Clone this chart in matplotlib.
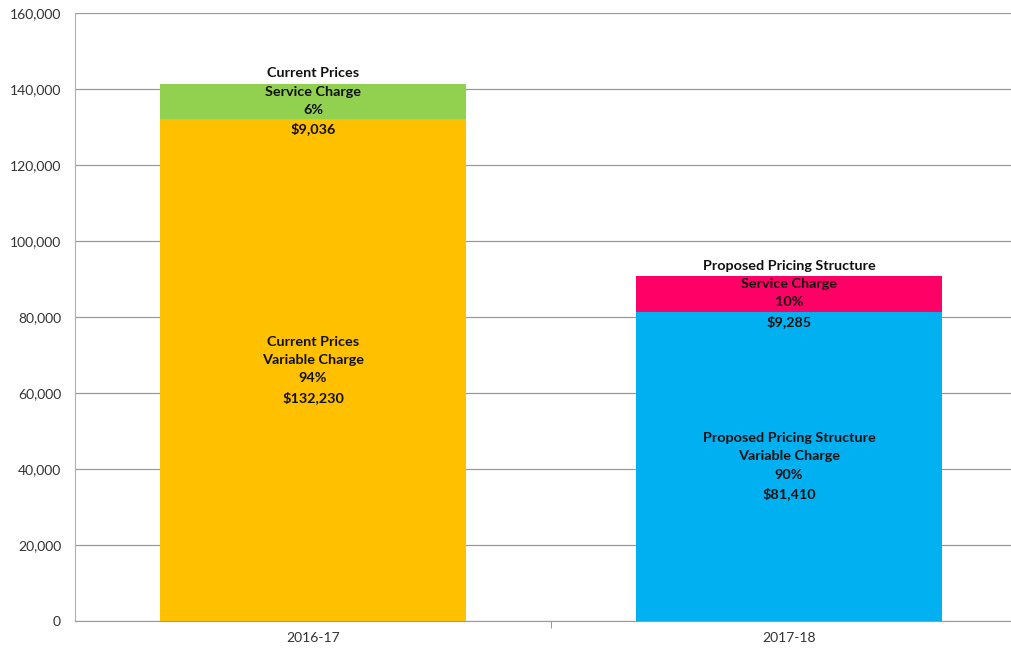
import numpy as np
import matplotlib.pyplot as plt

# data
years = ['2016-17', '2017-18']
variable = [132230, 81410]
service = [9036, 9285]
variable_pct = ['94%', '90%']
service_pct = ['6%', '10%']
structure = ['Current Prices', 'Proposed Pricing Structure']

variable_colors = ['#FFC000', '#00B0F0']
service_colors = ['#92D050', '#FF0066']

fig = plt.figure(figsize=(10.12, 6.53), dpi=100)
ax = fig.add_axes([75 / 1012, 32 / 653, 952 / 1012, 608 / 653])

x = np.arange(len(years))
width = 0.643
ax.bar(x, variable, width, color=variable_colors, zorder=2)
ax.bar(x, service, width, bottom=variable, color=service_colors, zorder=2)

lbl = dict(ha='center', va='center', fontsize=10.4, fontweight='bold',
           family='Lato', linespacing=1.62, color='#111111', zorder=3)
for i in range(len(years)):
    ax.text(x[i], variable[i] / 2,
            f'{structure[i]}\nVariable Charge\n{variable_pct[i]}\n${variable[i]:,}', **lbl)
    ax.text(x[i], variable[i] + service[i] / 2,
            f'{structure[i]}\nService Charge\n{service_pct[i]}\n${service[i]:,}', **lbl)

ax.set_ylim(0, 160000)
ax.set_xlim(-0.5, 1.5)
ax.set_yticks(np.arange(0, 160001, 20000))
ax.set_yticklabels([f'{v:,}' for v in range(0, 160001, 20000)],
                   fontsize=10, family='Lato', color='#333333')
ax.tick_params(axis='y', length=0, pad=10)
ax.set_xticks(x)
ax.set_xticklabels(years, fontsize=10, family='Lato', color='#333333')
ax.tick_params(axis='x', length=0, pad=8)
ax.set_xticks([0.5], minor=True)
ax.tick_params(axis='x', which='minor', length=5, color='#868686')

ax.grid(axis='y', color='#9a9a9a', linewidth=0.9, zorder=0)
for s in ['top', 'right']:
    ax.spines[s].set_visible(False)
ax.spines['left'].set_color('#b0b0b0')
ax.spines['bottom'].set_color('#9a9a9a')

plt.savefig('out.png', dpi=100)
